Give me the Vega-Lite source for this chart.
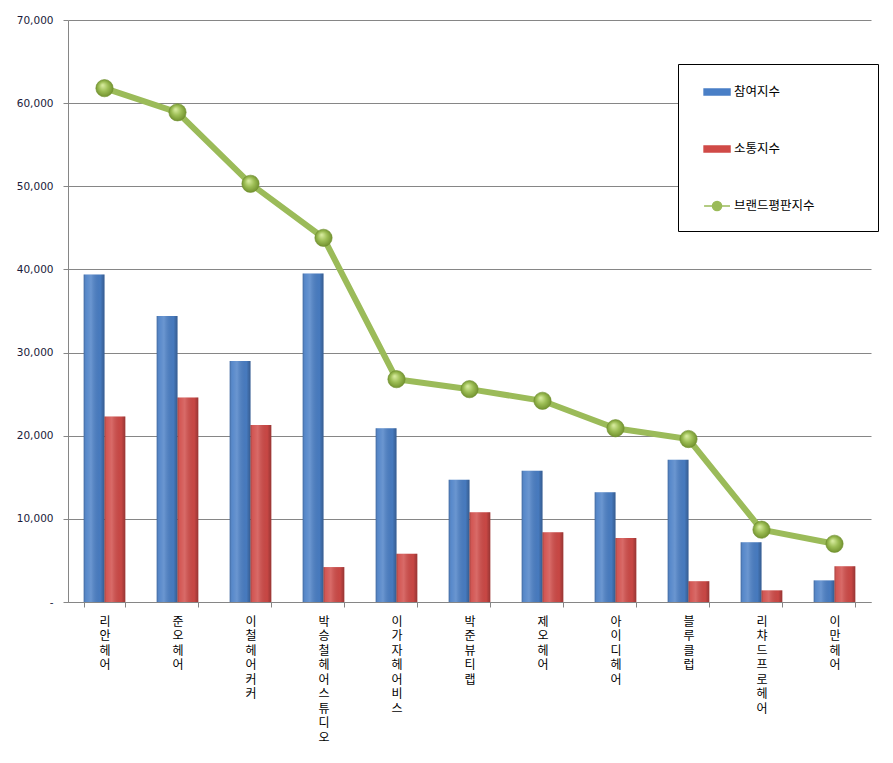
{
  "$schema": "https://vega.github.io/schema/vega-lite/v6.json",
  "autosize": {"type": "none"},
  "padding": {"left": 68, "top": 20, "right": 22, "bottom": 161},
  "width": 803,
  "height": 582,
  "background": "white",
  "config": {"view": {"stroke": null}, "legend": {"symbolSize": 2304, "symbolStrokeWidth": 1.5}},
  "data": {"values": [
    {"name": "리안헤어", "series": "참여지수", "value": 39400},
    {"name": "리안헤어", "series": "소통지수", "value": 22300},
    {"name": "리안헤어", "series": "브랜드평판지수", "value": 61800},
    {"name": "준오헤어", "series": "참여지수", "value": 34400},
    {"name": "준오헤어", "series": "소통지수", "value": 24600},
    {"name": "준오헤어", "series": "브랜드평판지수", "value": 58900},
    {"name": "이철헤어커커", "series": "참여지수", "value": 29000},
    {"name": "이철헤어커커", "series": "소통지수", "value": 21300},
    {"name": "이철헤어커커", "series": "브랜드평판지수", "value": 50300},
    {"name": "박승철헤어스튜디오", "series": "참여지수", "value": 39500},
    {"name": "박승철헤어스튜디오", "series": "소통지수", "value": 4200},
    {"name": "박승철헤어스튜디오", "series": "브랜드평판지수", "value": 43800},
    {"name": "이가자헤어비스", "series": "참여지수", "value": 20900},
    {"name": "이가자헤어비스", "series": "소통지수", "value": 5800},
    {"name": "이가자헤어비스", "series": "브랜드평판지수", "value": 26800},
    {"name": "박준뷰티랩", "series": "참여지수", "value": 14700},
    {"name": "박준뷰티랩", "series": "소통지수", "value": 10800},
    {"name": "박준뷰티랩", "series": "브랜드평판지수", "value": 25600},
    {"name": "제오헤어", "series": "참여지수", "value": 15800},
    {"name": "제오헤어", "series": "소통지수", "value": 8400},
    {"name": "제오헤어", "series": "브랜드평판지수", "value": 24200},
    {"name": "아이디헤어", "series": "참여지수", "value": 13200},
    {"name": "아이디헤어", "series": "소통지수", "value": 7700},
    {"name": "아이디헤어", "series": "브랜드평판지수", "value": 20900},
    {"name": "블루클럽", "series": "참여지수", "value": 17100},
    {"name": "블루클럽", "series": "소통지수", "value": 2500},
    {"name": "블루클럽", "series": "브랜드평판지수", "value": 19600},
    {"name": "리챠드프로헤어", "series": "참여지수", "value": 7200},
    {"name": "리챠드프로헤어", "series": "소통지수", "value": 1400},
    {"name": "리챠드프로헤어", "series": "브랜드평판지수", "value": 8700},
    {"name": "이만헤어", "series": "참여지수", "value": 2600},
    {"name": "이만헤어", "series": "소통지수", "value": 4300},
    {"name": "이만헤어", "series": "브랜드평판지수", "value": 7000}
  ]},
  "encoding": {
    "x": {
      "field": "name", "type": "nominal", "sort": null,
      "scale": {"paddingInner": 0.43, "paddingOuter": 0.215},
      "axis": {
        "title": null, "labelAngle": 0, "labelAlign": "center", "labelBaseline": "top",
        "labelExpr": "split(datum.label, '')", "labelLineHeight": 14.5,
        "labelFont": "Noto Sans CJK KR", "labelFontSize": 12, "labelColor": "#000000",
        "labelPadding": 9, "tickSize": 5, "tickBand": "extent",
        "domainColor": "#868686", "tickColor": "#868686", "grid": false
      }
    },
    "y": {
      "field": "value", "type": "quantitative",
      "scale": {"domain": [0, 70000], "nice": false},
      "axis": {
        "title": null, "values": [0, 10000, 20000, 30000, 40000, 50000, 60000, 70000],
        "labelExpr": "datum.value === 0 ? '-' : format(datum.value, ',')",
        "labelFont": "DejaVu Sans", "labelFontSize": 10.5, "labelColor": "#1A1A3A",
        "labelPadding": 10, "tickSize": 5,
        "domainColor": "#868686", "tickColor": "#868686",
        "grid": true, "gridColor": "#868686", "gridWidth": 1
      }
    }
  },
  "layer": [
    {
      "transform": [{"filter": "datum.series !== '브랜드평판지수'"}],
      "mark": {"type": "bar"},
      "encoding": {
        "xOffset": {"field": "series", "type": "nominal", "scale": {"domain": ["참여지수", "소통지수"], "paddingInner": 0, "paddingOuter": 0}},
        "color": {
          "field": "series", "type": "nominal",
          "scale": {"domain": ["참여지수", "소통지수", "브랜드평판지수"], "range": ["#4A7FC6", "#D04A47", "#9BBB59"]},
          "legend": {
            "title": "\u2800", "titleOrient": "bottom", "titleFontSize": 6, "titlePadding": 8, "titleColor": "#ffffff",
            "orient": "none", "legendX": 610, "legendY": 44,
            "padding": 3, "strokeColor": "#000000", "fillColor": "#ffffff",
            "symbolSize": 2304, "symbolStrokeWidth": 1.5, "rowPadding": 25, "labelOffset": 3,
            "labelFont": "Noto Sans CJK KR", "labelFontSize": 12.5, "labelColor": "#000000",
            "labelExpr": "datum.label + '\u2800\u2800\u2800\u2800\u2800\u2800'",
            "encode": {
              "symbols": {
                "enter": {
                  "size": {"value": 2304},
                  "strokeWidth": {"value": 1.5}
                },
                "update": {
                  "size": {"value": 2304},
                  "strokeWidth": {"value": 1.5},
                  "shape": {"signal": "datum.value === '브랜드평판지수' ? 'M-0.08,0H1M0.27,0A0.19,0.19 0 1,0 0.65,0A0.19,0.19 0 1,0 0.27,0Z' : 'M-0.08,-0.125H1V0.125H-0.08Z'"},
                  "fill": {"signal": "datum.value === '참여지수' ? '#4A7FC6' : datum.value === '소통지수' ? '#D04A47' : '#9BBB59'"},
                  "stroke": {"signal": "datum.value === '참여지수' ? '#3A6AAE' : datum.value === '소통지수' ? '#B23D3A' : '#8CAF48'"},
                  "opacity": {"value": 1},
                  "fillOpacity": {"value": 1},
                  "strokeOpacity": {"value": 1}
                }
              }
            }
          }
        }
      }
    },
    {
      "transform": [{"filter": "datum.series !== '브랜드평판지수'"}],
      "mark": {
        "type": "bar",
        "fill": {"gradient": "linear", "x1": 0, "y1": 0, "x2": 1, "y2": 0, "stops": [
          {"offset": 0, "color": "rgba(0,0,0,0.22)"},
          {"offset": 0.12, "color": "rgba(255,255,255,0.08)"},
          {"offset": 0.35, "color": "rgba(255,255,255,0.18)"},
          {"offset": 0.8, "color": "rgba(0,0,0,0.04)"},
          {"offset": 1, "color": "rgba(0,0,0,0.28)"}
        ]}
      },
      "encoding": {
        "xOffset": {"field": "series", "type": "nominal", "scale": {"domain": ["참여지수", "소통지수"], "paddingInner": 0, "paddingOuter": 0}}
      }
    },
    {
      "transform": [{"filter": "datum.series === '브랜드평판지수'"}],
      "mark": {"type": "line", "strokeWidth": 6},
      "encoding": {
        "color": {"field": "series", "type": "nominal"}
      }
    },
    {
      "transform": [{"filter": "datum.series === '브랜드평판지수'"}],
      "mark": {
        "type": "point", "shape": "circle", "filled": true, "size": 300, "opacity": 1,
        "fill": {"gradient": "radial", "x1": 0.38, "y1": 0.32, "r1": 0, "x2": 0.5, "y2": 0.5, "r2": 0.55, "stops": [
          {"offset": 0, "color": "#DDF0A6"},
          {"offset": 0.5, "color": "#9DBE55"},
          {"offset": 1, "color": "#6C8C2A"}
        ]},
        "stroke": "#6E8E2E", "strokeWidth": 0.6
      },
      "encoding": {}
    }
  ]
}
